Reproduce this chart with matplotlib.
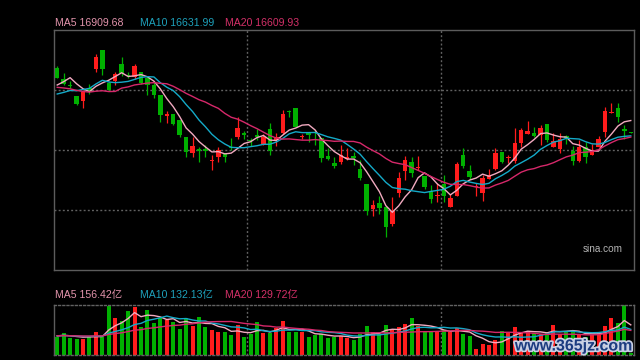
import numpy as np
import pandas as pd
import matplotlib
matplotlib.use('Agg')
import matplotlib.pyplot as plt
import matplotlib.patheffects as pe

# ---------------- data (index points / volume in 亿) ----------------
open_ = [17846, 17642, 17540, 17342, 17258, 17480, 17828, 18170, 17576, 17618,
         17918, 17726, 17690, 17774, 17660, 17540, 17360, 16988, 17018, 16910,
         16610, 16322, 16382, 16382, 16166, 16250, 16310, 16430, 16610, 16670,
         16550, 16634, 16478, 16748, 16550, 16682, 17078, 17126, 16604, 16670,
         16562, 16586, 16262, 16142, 16160, 16214, 16262, 16022, 15758, 15308,
         15410, 15338, 15038, 15602, 15998, 16160, 16040, 15902, 15638, 15536,
         15758, 15350, 15548, 16280, 15992, 15710, 15590, 15842, 16022, 16334,
         16220, 16178, 16502, 16658, 16670, 16646, 16838, 16430, 16388, 16616,
         16352, 16178, 16418, 16280, 16430, 16700, 17042, 17126, 16742, 16694]
close = [17672, 17558, 17522, 17204, 17408, 17408, 18038, 17828, 17450, 17738,
         17750, 17702, 17882, 17570, 17534, 17360, 17000, 17018, 16838, 16640,
         16340, 16442, 16352, 16352, 16190, 16370, 16238, 16418, 16772, 16640,
         16526, 16610, 16610, 16358, 16598, 17018, 17060, 16790, 16622, 16640,
         16550, 16232, 16202, 16082, 16280, 16238, 16232, 15872, 15278, 15380,
         15332, 14978, 15278, 15866, 16190, 15962, 16064, 15710, 15494, 15554,
         15548, 15506, 16118, 16082, 15890, 15728, 15860, 15926, 16310, 16160,
         16238, 16490, 16730, 16718, 16622, 16766, 16550, 16538, 16568, 16586,
         16178, 16418, 16250, 16334, 16568, 17072, 17060, 16970, 16718, 16682]
high = [17882, 17750, 17606, 17342, 17450, 17558, 18098, 18170, 17600, 17780,
        18050, 17780, 17918, 17774, 17690, 17600, 17360, 17078, 17018, 16910,
        16610, 16598, 16430, 16460, 16280, 16418, 16322, 16580, 16958, 16718,
        16580, 16742, 16652, 16862, 16670, 17090, 17090, 17126, 16658, 16670,
        16730, 16586, 16400, 16250, 16460, 16400, 16340, 16190, 15758, 15470,
        15542, 15338, 15530, 15980, 16262, 16250, 16262, 15902, 15740, 15770,
        15920, 15578, 16160, 16400, 16100, 15770, 15920, 16022, 16400, 16334,
        16280, 16760, 16760, 16898, 16778, 16820, 16838, 16682, 16682, 16640,
        16442, 16550, 16520, 16478, 16622, 17150, 17210, 17210, 16820, 16694]
low = [17660, 17540, 17480, 17174, 17132, 17378, 17768, 17726, 17432, 17540,
       17702, 17660, 17642, 17558, 17360, 17300, 16880, 16862, 16820, 16610,
       16238, 16250, 16160, 16250, 16010, 16160, 16148, 16370, 16568, 16568,
       16442, 16550, 16466, 16280, 16442, 16652, 16958, 16778, 16562, 16520,
       16460, 16148, 16190, 16040, 16118, 16190, 16100, 15830, 15200, 15188,
       15218, 14810, 15002, 15530, 15830, 15890, 16010, 15662, 15422, 15440,
       15440, 15350, 15548, 16040, 15842, 15542, 15458, 15842, 16010, 16142,
       16142, 16130, 16430, 16658, 16598, 16460, 16520, 16418, 16322, 16478,
       16100, 16154, 16142, 16280, 16418, 16610, 17042, 16880, 16562, 16682]
# closes of the 19 sessions before the first visible one (feed the moving averages)
prev_close = [17780, 17840, 17750, 17810, 17630, 17720, 17660, 17750, 17690, 16550,
              17270, 17180, 17240, 17198, 17192, 17258, 17162, 17750, 17858]

volume = [94.6, 111.8, 89.4, 82.6, 82.6, 99.8, 117.0, 94.6, 251.1, 192.6,
          175.4, 227.0, 247.7, 146.2, 232.2, 163.4, 192.6, 180.6, 168.6, 134.2,
          189.2, 151.4, 196.1, 144.5, 129.0, 117.0, 117.0, 103.2, 154.8, 94.6,
          106.6, 168.6, 111.8, 111.8, 141.0, 175.4, 117.0, 117.0, 117.0, 94.6,
          103.2, 106.6, 89.4, 94.6, 97.0, 89.4, 77.4, 106.6, 151.4, 117.0,
          106.6, 154.8, 134.2, 144.5, 158.2, 192.6, 151.4, 120.4, 123.8, 120.4,
          129.0, 117.0, 141.0, 106.6, 99.8, 31.0, 55.0, 51.6, 77.4, 123.8,
          111.8, 146.2, 111.8, 120.4, 111.8, 106.6, 120.4, 154.8, 106.6, 123.8,
          123.8, 103.2, 94.6, 103.2, 120.4, 151.4, 192.6, 166.8, 258.0, 8.6]
prev_volume = [98, 104, 95, 101, 99, 103, 97, 100, 102, 96,
               99, 101, 100, 98, 103, 97, 100, 102, 99]

ma_periods = [5, 10, 20]
price_ma_values = ['16909.68', '16631.99', '16609.93']
vol_ma_values = ['156.42亿', '132.13亿', '129.72亿']

# ---------------- styling ----------------
RED = '#ff1c1c'
GREEN = '#00b000'
MA_COLORS = ['#f2aac0', '#14aac8', '#d6286a']
TXT_COLORS = ['#e394ac', '#1ea2bc', '#d43068']
BORDER = '#5c5c5c'
GRID = '#626262'
FONT = ['Liberation Sans', 'Noto Sans CJK SC']

W, H = 640, 360
fig = plt.figure(figsize=(6.4, 3.6), dpi=100, facecolor='black')
ax = fig.add_axes([54 / W, 90 / H, 580 / W, 240 / H])
axv = fig.add_axes([54 / W, 5 / H, 580 / W, 50 / H])

n = len(close)
x = np.arange(n)
o = np.array(open_, float)
c = np.array(close, float)
hi = np.array(high, float)
lo = np.array(low, float)
up = c >= o
cols = np.where(up, RED, GREEN)

for a in (ax, axv):
    a.set_facecolor('black')
    a.set_xticks([])
    a.set_yticks([])
    a.set_xlim(-0.5, n - 0.5)
    for s in a.spines.values():
        s.set_color(BORDER)
        s.set_linewidth(1.0)

# candles
ax.vlines(x, lo, hi, colors=cols, linewidth=0.9, zorder=2)
body_bot = np.minimum(o, c)
body_h = np.maximum(np.abs(c - o), 16)
ax.bar(x, body_h, bottom=body_bot - np.where(np.abs(c - o) < 16, 8, 0), width=0.7,
       color=cols, linewidth=0, zorder=3)

ax.set_ylim(14210, 18530)

# moving averages
full_close = pd.Series(list(prev_close) + list(close), dtype=float)
off = len(prev_close)
for p, col in zip(ma_periods, MA_COLORS):
    ma = full_close.rolling(p).mean().to_numpy()[off:]
    ax.plot(x, ma, color=col, linewidth=1.0, zorder=4)

# grid
for f in (0.25, 0.5, 0.75):
    ax.plot([0, 1], [f, f], transform=ax.transAxes, color=GRID, linewidth=1.0,
            linestyle=(0, (1.4, 1.6)), zorder=1)
for a in (ax, axv):
    for f in (1 / 3, 2 / 3):
        a.plot([f, f], [0, 1], transform=a.transAxes, color=GRID, linewidth=1.0,
               linestyle=(0, (1.4, 1.6)), zorder=1)

# volume
axv.bar(x, volume, width=0.62, color=cols, linewidth=0, zorder=2)
axv.set_ylim(0, max(volume))
full_vol = pd.Series(list(prev_volume) + list(volume), dtype=float)
offv = len(prev_volume)
for p, col in zip(ma_periods, MA_COLORS):
    ma = full_vol.rolling(p).mean().to_numpy()[offv:]
    axv.plot(x, ma, color=col, linewidth=1.0, zorder=3)
axv.spines['top'].set_linestyle((0, (1.4, 1.6)))
axv.spines['bottom'].set_linestyle((0, (1.4, 1.6)))
axv.spines['top'].set_color(GRID)
axv.spines['bottom'].set_color(GRID)

# legends
lx = [55, 140, 225]
for i, p in enumerate(ma_periods):
    fig.text(lx[i] / W, 1 - 23 / H, f'MA{p} {price_ma_values[i]}', color=TXT_COLORS[i],
             fontsize=7.6, family=FONT, va='center', ha='left')
    fig.text(lx[i] / W, 1 - 295 / H, f'MA{p} {vol_ma_values[i]}', color=TXT_COLORS[i],
             fontsize=7.6, family=FONT, va='center', ha='left')

fig.text(583 / W, 1 - 249 / H, 'sina.com', color='#b4b4b4', fontsize=7.2,
         family=FONT, va='center', ha='left')

wm = fig.text(574 / W, 1 - 346 / H, 'www.365jz.com', color='#1c3c80', fontsize=11.5,
              fontweight='bold', family=FONT, va='center', ha='center', zorder=10)
wm.set_path_effects([pe.withStroke(linewidth=2.5, foreground='#c8d0e4')])

fig.savefig('out.png', dpi=100, facecolor='black')
